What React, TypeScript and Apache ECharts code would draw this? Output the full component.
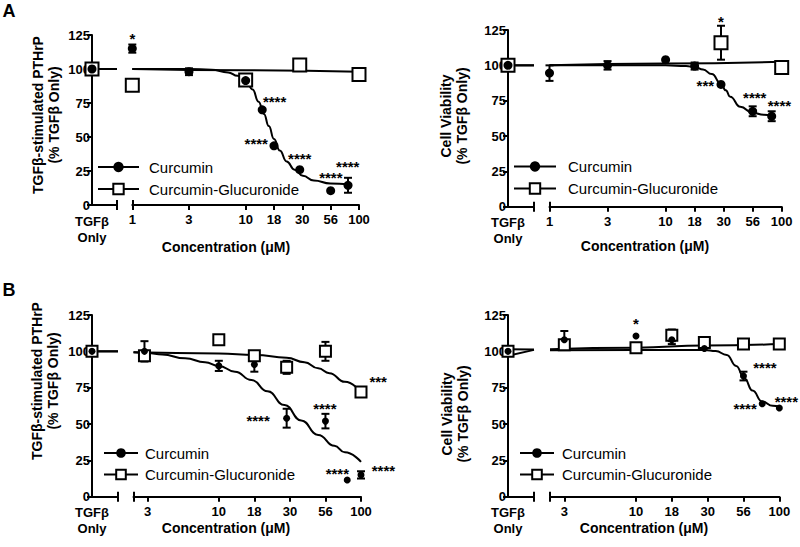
import React, { useEffect, useRef } from 'react';
import * as echarts from 'echarts';

const FONT = '"Liberation Sans", Arial, Helvetica, sans-serif';

// ---------- shared axis data ----------
const TICK_CONC_A = [1, 3.162, 10, 17.78, 31.62, 56.23, 100];
const TICK_LABELS_A = ['1', '3', '10', '18', '30', '56', '100'];
const TICK_CONC_B = [3.162, 10, 17.78, 31.62, 56.23, 100];
const TICK_LABELS_B = ['3', '10', '18', '30', '56', '100'];
const BASELINE_LABEL = 'TGFβ\nOnly';
const NAME_CUR = 'Curcumin';
const NAME_GLU = 'Curcumin-Glucuronide';
const X_TITLE = 'Concentration (μM)';
const Y_TITLE_PTHRP = 'TGFβ-stimulated PTHrP\n(% TGFβ Only)';
const Y_TITLE_VIAB = 'Cell Viability\n(% TGFβ Only)';
const Y_MIN = 0;
const Y_MAX = 125;
const Y_STEP = 25;

// ---------- Panel A, left: PTHrP ----------
const A1_BASE_CUR = 100;
const A1_BASE_GLU = 100;
const A1_CUR_CONC = [1, 3.162, 10, 14, 17.78, 30, 56.23, 80];
const A1_CUR_MEAN = [115, 98, 91.5, 70, 43.5, 26, 10.5, 14.5];
const A1_CUR_ERR = [3, 2.5, 0, 0, 0, 0, 0, 5.5];
const A1_GLU_CONC = [1, 10, 30, 100];
const A1_GLU_MEAN = [88, 92, 103, 96];
const A1_GLU_ERR = [0, 0, 0, 0];
const A1_CUR_FIT_CONC = [1, 3.162, 5, 7, 8.5, 10, 11.5, 13, 14.5, 16, 17.8, 20, 23, 27, 32, 40, 56, 80];
const A1_CUR_FIT = [100, 100, 99.5, 97.5, 95, 91.5, 85, 76, 67, 58, 48.5, 40, 32, 26, 21.5, 18, 15.8, 15.2];
const A1_GLU_FIT_CONC = [1, 10, 100];
const A1_GLU_FIT = [100, 99, 98];
const A1_BREAK_CUR = [100, 100];
const A1_BREAK_GLU = [100, 100];
const A1_STAR_CONC = [1, 18, 12.4, 30, 56.4, 79.6];
const A1_STAR_Y = [125, 78.5, 47.8, 36.8, 22.8, 31.1];
const A1_STAR_TEXT = ['*', '****', '****', '****', '****', '****'];

// ---------- Panel A, right: viability ----------
const A2_BASE_CUR = 100;
const A2_BASE_GLU = 100;
const A2_CUR_CONC = [1, 3.162, 10, 17.78, 30, 56.23, 82];
const A2_CUR_MEAN = [94.5, 100, 104, 99.5, 86.5, 67.5, 64];
const A2_CUR_ERR = [5.5, 3, 0, 2.5, 0, 3.5, 3.5];
const A2_GLU_CONC = [30, 100];
const A2_GLU_MEAN = [116, 98.5];
const A2_GLU_ERR = [12, 0];
const A2_CUR_FIT_CONC = [1, 3.162, 10, 15, 18, 21, 25, 30, 33, 36, 44, 56, 70, 82];
const A2_CUR_FIT = [100, 100, 100, 99.5, 98.7, 97, 93.8, 87, 82.3, 77.8, 70.7, 66.5, 65, 64.5];
const A2_GLU_FIT_CONC = [1, 10, 100];
const A2_GLU_FIT = [100, 101.3, 102.5];
const A2_BREAK_CUR = [100, 100];
const A2_BREAK_GLU = [100, 100];
const A2_STAR_CONC = [30, 22, 58.6, 95.6];
const A2_STAR_Y = [133.3, 88.4, 79.5, 74.3];
const A2_STAR_TEXT = ['*', '***', '****', '****'];

// ---------- Panel B, left: PTHrP ----------
const B1_BASE_CUR = 100;
const B1_BASE_GLU = 100;
const B1_CUR_CONC = [3, 10, 17.78, 30, 56.23, 80, 100];
const B1_CUR_MEAN = [100, 90, 91, 54, 52, 11.5, 15];
const B1_CUR_ERR = [7, 3.5, 5, 6.5, 5, 0, 2.5];
const B1_GLU_CONC = [3, 10, 17.78, 30, 56.23, 100];
const B1_GLU_MEAN = [97, 108, 97, 89, 100, 72];
const B1_GLU_ERR = [0, 2, 3, 4.5, 6.5, 0];
const B1_CUR_FIT_CONC = [2.512, 3.162, 4, 5.8, 8, 10, 13, 17, 22, 29, 38, 50, 65, 77, 100];
const B1_CUR_FIT = [99.3, 98.8, 97.8, 95.2, 92.5, 90, 86, 80.3, 72.5, 63, 52.5, 42.5, 35, 30.5, 24];
const B1_GLU_FIT_CONC = [2.512, 10, 18, 30, 40, 50, 60, 77, 100];
const B1_GLU_FIT = [99.4, 98.6, 97.5, 95.6, 92.5, 88.3, 85, 79, 72];
const B1_BREAK_CUR = [100, 100];
const B1_BREAK_GLU = [100, 100];
const B1_STAR_CONC = [18.9, 55.7, 132, 68.2, 143.7];
const B1_STAR_Y = [55, 63.1, 81.5, 18.4, 20.2];
const B1_STAR_TEXT = ['****', '****', '***', '****', '****'];

// ---------- Panel B, right: viability ----------
const B2_BASE_CUR = 100;
const B2_BASE_GLU = 100;
const B2_CUR_CONC = [3.162, 10, 17.78, 30, 56.23, 76, 100];
const B2_CUR_MEAN = [108, 110.5, 108, 102, 83, 64, 61];
const B2_CUR_ERR = [6, 0, 3, 0, 3, 0, 0];
const B2_GLU_CONC = [3.162, 10, 17.78, 30, 56.23, 100];
const B2_GLU_MEAN = [104.5, 102.5, 111, 106, 105, 105];
const B2_GLU_ERR = [0, 0, 4, 0, 0, 0];
const B2_CUR_FIT_CONC = [2.512, 10, 20, 30, 36, 43, 50, 57, 65, 76, 90, 100];
const B2_CUR_FIT = [100.8, 101, 101, 101, 100.2, 97.5, 90, 81.5, 73, 65.5, 62.5, 62];
const B2_GLU_FIT_CONC = [2.512, 10, 30, 100];
const B2_GLU_FIT = [101.5, 102.5, 104, 105];
const B2_BREAK_CUR = [97, 101];
const B2_BREAK_GLU = [101.5, 101.3];
const B2_STAR_CONC = [10, 79.4, 57.7, 112];
const B2_STAR_Y = [121.6, 91.1, 63.1, 67.7];
const B2_STAR_TEXT = ['*', '****', '****', '****'];

type Panel = {
  baseCur: number; baseGlu: number;
  curConc: number[]; curMean: number[]; curErr: number[];
  gluConc: number[]; gluMean: number[]; gluErr: number[];
  curFitConc: number[]; curFit: number[];
  gluFitConc: number[]; gluFit: number[];
  breakCur: number[]; breakGlu: number[];
  starConc: number[]; starY: number[]; starText: string[];
  tickConc: number[]; tickLabels: string[];
  xMin: number;
};

type Layout = {
  yx: number; top: number; bottom: number; segEnd: number; rStart: number; rEnd: number;
  circle: number; square: number;
  legendLeft: number; legendTop: number; legendW: number; legendH: number; legendGap: number; legendPad: number;
};

const PANELS: Panel[] = [
  {
    baseCur: A1_BASE_CUR, baseGlu: A1_BASE_GLU,
    curConc: A1_CUR_CONC, curMean: A1_CUR_MEAN, curErr: A1_CUR_ERR,
    gluConc: A1_GLU_CONC, gluMean: A1_GLU_MEAN, gluErr: A1_GLU_ERR,
    curFitConc: A1_CUR_FIT_CONC, curFit: A1_CUR_FIT, gluFitConc: A1_GLU_FIT_CONC, gluFit: A1_GLU_FIT,
    breakCur: A1_BREAK_CUR, breakGlu: A1_BREAK_GLU,
    starConc: A1_STAR_CONC, starY: A1_STAR_Y, starText: A1_STAR_TEXT,
    tickConc: TICK_CONC_A, tickLabels: TICK_LABELS_A, xMin: 1,
  },
  {
    baseCur: A2_BASE_CUR, baseGlu: A2_BASE_GLU,
    curConc: A2_CUR_CONC, curMean: A2_CUR_MEAN, curErr: A2_CUR_ERR,
    gluConc: A2_GLU_CONC, gluMean: A2_GLU_MEAN, gluErr: A2_GLU_ERR,
    curFitConc: A2_CUR_FIT_CONC, curFit: A2_CUR_FIT, gluFitConc: A2_GLU_FIT_CONC, gluFit: A2_GLU_FIT,
    breakCur: A2_BREAK_CUR, breakGlu: A2_BREAK_GLU,
    starConc: A2_STAR_CONC, starY: A2_STAR_Y, starText: A2_STAR_TEXT,
    tickConc: TICK_CONC_A, tickLabels: TICK_LABELS_A, xMin: 1,
  },
  {
    baseCur: B1_BASE_CUR, baseGlu: B1_BASE_GLU,
    curConc: B1_CUR_CONC, curMean: B1_CUR_MEAN, curErr: B1_CUR_ERR,
    gluConc: B1_GLU_CONC, gluMean: B1_GLU_MEAN, gluErr: B1_GLU_ERR,
    curFitConc: B1_CUR_FIT_CONC, curFit: B1_CUR_FIT, gluFitConc: B1_GLU_FIT_CONC, gluFit: B1_GLU_FIT,
    breakCur: B1_BREAK_CUR, breakGlu: B1_BREAK_GLU,
    starConc: B1_STAR_CONC, starY: B1_STAR_Y, starText: B1_STAR_TEXT,
    tickConc: TICK_CONC_B, tickLabels: TICK_LABELS_B, xMin: 2.512,
  },
  {
    baseCur: B2_BASE_CUR, baseGlu: B2_BASE_GLU,
    curConc: B2_CUR_CONC, curMean: B2_CUR_MEAN, curErr: B2_CUR_ERR,
    gluConc: B2_GLU_CONC, gluMean: B2_GLU_MEAN, gluErr: B2_GLU_ERR,
    curFitConc: B2_CUR_FIT_CONC, curFit: B2_CUR_FIT, gluFitConc: B2_GLU_FIT_CONC, gluFit: B2_GLU_FIT,
    breakCur: B2_BREAK_CUR, breakGlu: B2_BREAK_GLU,
    starConc: B2_STAR_CONC, starY: B2_STAR_Y, starText: B2_STAR_TEXT,
    tickConc: TICK_CONC_B, tickLabels: TICK_LABELS_B, xMin: 2.512,
  },
];

const LAYOUTS: Layout[] = [
  { yx: 92, top: 35, bottom: 205, segEnd: 117, rStart: 132.3, rEnd: 359, circle: 9, square: 13,
    legendLeft: 97, legendTop: 159.5, legendW: 41, legendH: 13, legendGap: 7, legendPad: 5 },
  { yx: 508, top: 30, bottom: 206.7, segEnd: 534, rStart: 549.5, rEnd: 781.7, circle: 9, square: 13,
    legendLeft: 513, legendTop: 159, legendW: 42, legendH: 13, legendGap: 7, legendPad: 7 },
  { yx: 92, top: 315, bottom: 496.7, segEnd: 118, rStart: 133.5, rEnd: 361, circle: 7, square: 11,
    legendLeft: 103, legendTop: 445.5, legendW: 34, legendH: 12, legendGap: 6.5, legendPad: 2 },
  { yx: 508, top: 315, bottom: 496.7, segEnd: 534, rStart: 550, rEnd: 779.3, circle: 7, square: 11,
    legendLeft: 519, legendTop: 445.5, legendW: 34, legendH: 12, legendGap: 6.5, legendPad: 3 },
];

const lg = (c: number) => Math.log10(c);

function buildOption() {
  const grids: any[] = [];
  const xAxes: any[] = [];
  const yAxes: any[] = [];
  const series: any[] = [];
  const legends: any[] = [];

  const black = '#000';
  const lineW = 2;
  const tickLabelStyle = { color: black, fontFamily: FONT, fontWeight: 'bold', fontSize: 13 };

  const errorBarSeries = (xi: number, yi: number, data: number[][]) => ({
    type: 'custom', xAxisIndex: xi, yAxisIndex: yi, z: 2, silent: true,
    encode: { x: 0, y: 1 },
    data,
    renderItem: (params: any, api: any) => {
      const x = api.value(0), y = api.value(1), e = api.value(2);
      const hi = api.coord([x, y + e]);
      const lo = api.coord([x, y - e]);
      const cap = 4;
      const st = { stroke: black, lineWidth: lineW };
      return {
        type: 'group',
        children: [
          { type: 'line', shape: { x1: hi[0], y1: hi[1], x2: lo[0], y2: lo[1] }, style: st },
          { type: 'line', shape: { x1: hi[0] - cap, y1: hi[1], x2: hi[0] + cap, y2: hi[1] }, style: st },
          { type: 'line', shape: { x1: lo[0] - cap, y1: lo[1], x2: lo[0] + cap, y2: lo[1] }, style: st },
        ],
      };
    },
  });

  PANELS.forEach((p, pi) => {
    const L = LAYOUTS[pi];
    const h = L.bottom - L.top;
    const gL = grids.length;
    grids.push({ left: L.yx, top: L.top, width: L.segEnd - L.yx, height: h });
    const gR = grids.length;
    grids.push({ left: L.rStart, top: L.top, width: L.rEnd - L.rStart, height: h });

    const xMinLog = lg(p.xMin);
    const tickVals = p.tickConc.map(lg);
    const labelFor = (v: number) => {
      const i = tickVals.findIndex((t) => Math.abs(t - v) < 1e-6);
      return i >= 0 ? p.tickLabels[i] : '';
    };
    const axisLine = { show: true, onZero: false, lineStyle: { color: black, width: lineW } };

    // left (TGFβ only) segment axes
    const xL = xAxes.length;
    xAxes.push({
      type: 'value', gridIndex: gL, position: 'bottom', min: 0, max: 1,
      axisLine, splitLine: { show: false },
      axisTick: { show: true, customValues: [1], length: 5, lineStyle: { color: black, width: lineW } },
      axisLabel: { show: true, customValues: [0], formatter: () => BASELINE_LABEL, margin: 8, lineHeight: 16, ...tickLabelStyle },
    });
    xAxes.push({
      type: 'value', gridIndex: gL, position: 'bottom', min: 0, max: 1,
      axisLine: { show: false }, splitLine: { show: false }, axisLabel: { show: false },
      axisTick: { show: true, inside: true, customValues: [1], length: 5, lineStyle: { color: black, width: lineW } },
    });
    // right (concentration) segment axes
    const xR = xAxes.length;
    const rightTicks = xMinLog < tickVals[0] - 1e-6 ? [xMinLog, ...tickVals] : tickVals;
    xAxes.push({
      type: 'value', gridIndex: gR, position: 'bottom', min: xMinLog, max: 2,
      axisLine, splitLine: { show: false },
      axisTick: { show: true, customValues: rightTicks, length: 5, lineStyle: { color: black, width: lineW } },
      axisLabel: { show: true, customValues: tickVals, formatter: (v: number) => labelFor(v), margin: 8, ...tickLabelStyle },
    });
    xAxes.push({
      type: 'value', gridIndex: gR, position: 'bottom', min: xMinLog, max: 2,
      axisLine: { show: false }, splitLine: { show: false }, axisLabel: { show: false },
      axisTick: { show: true, inside: true, customValues: [xMinLog], length: 5, lineStyle: { color: black, width: lineW } },
    });

    const yL = yAxes.length;
    yAxes.push({
      type: 'value', gridIndex: gL, position: 'left', min: Y_MIN, max: Y_MAX, interval: Y_STEP,
      axisLine, splitLine: { show: false },
      axisTick: { show: true, length: 5, lineStyle: { color: black, width: lineW } },
      axisLabel: { show: true, margin: 2, ...tickLabelStyle },
    });
    const yR = yAxes.length;
    yAxes.push({ type: 'value', gridIndex: gR, min: Y_MIN, max: Y_MAX, interval: Y_STEP, show: false });

    const curStyle = { color: black, opacity: 1 };
    const gluStyle = { color: '#fff', borderColor: black, borderWidth: lineW, opacity: 1 };

    // fitted curves
    series.push({
      name: NAME_CUR, type: 'line', xAxisIndex: xR, yAxisIndex: yR, z: 2,
      data: p.curFitConc.map((c, i) => [lg(c), p.curFit[i]]),
      smooth: true, smoothMonotone: 'x', showSymbol: false, symbol: 'circle', symbolSize: L.circle,
      lineStyle: { color: black, width: lineW }, itemStyle: curStyle, silent: true, clip: false,
    });
    series.push({
      name: NAME_GLU, type: 'line', xAxisIndex: xR, yAxisIndex: yR, z: 2,
      data: p.gluFitConc.map((c, i) => [lg(c), p.gluFit[i]]),
      smooth: true, smoothMonotone: 'x', showSymbol: false, symbol: 'rect', symbolSize: L.square,
      lineStyle: { color: black, width: lineW }, itemStyle: gluStyle, silent: true, clip: false,
    });
    // curves across the TGFβ-only segment
    [p.breakCur, p.breakGlu].forEach((b, k) => {
      series.push({
        name: `break-${pi}-${k}`, type: 'line', xAxisIndex: xL, yAxisIndex: yL, z: 2,
        data: [[0, b[0]], [1, b[1]]], showSymbol: false, symbol: 'none',
        lineStyle: { color: black, width: lineW }, silent: true, clip: false,
      });
    });

    // error bars
    series.push(errorBarSeries(xR, yR,
      p.gluConc.map((c, i) => [lg(c), p.gluMean[i], p.gluErr[i]]).filter((d) => d[2] > 0)));
    series.push(errorBarSeries(xR, yR,
      p.curConc.map((c, i) => [lg(c), p.curMean[i], p.curErr[i]]).filter((d) => d[2] > 0)));

    // points
    series.push({
      name: `glu-pts-${pi}`, type: 'scatter', xAxisIndex: xR, yAxisIndex: yR, z: 3, silent: true, clip: false,
      symbol: 'rect', symbolSize: L.square, itemStyle: gluStyle,
      data: p.gluConc.map((c, i) => [lg(c), p.gluMean[i]]),
    });
    series.push({
      name: `cur-pts-${pi}`, type: 'scatter', xAxisIndex: xR, yAxisIndex: yR, z: 4, silent: true, clip: false,
      symbol: 'circle', symbolSize: L.circle, itemStyle: curStyle,
      data: p.curConc.map((c, i) => [lg(c), p.curMean[i]]),
    });
    series.push({
      name: `glu-base-${pi}`, type: 'scatter', xAxisIndex: xL, yAxisIndex: yL, z: 3, silent: true, clip: false,
      symbol: 'rect', symbolSize: L.square, itemStyle: gluStyle, data: [[0, p.baseGlu]],
    });
    series.push({
      name: `cur-base-${pi}`, type: 'scatter', xAxisIndex: xL, yAxisIndex: yL, z: 4, silent: true, clip: false,
      symbol: 'circle', symbolSize: L.circle, itemStyle: curStyle, data: [[0, p.baseCur]],
    });

    // significance stars
    series.push({
      name: `stars-${pi}`, type: 'scatter', xAxisIndex: xR, yAxisIndex: yR, z: 6, silent: true, clip: false,
      symbolSize: 1, itemStyle: { color: 'rgba(0,0,0,0)', opacity: 1 },
      data: p.starConc.map((c, i) => ({ value: [lg(c), p.starY[i]], name: p.starText[i] })),
      label: {
        show: true, position: 'inside', formatter: '{b}', offset: [0, 3.6], opacity: 1,
        color: black, fontFamily: FONT, fontWeight: 'bold', fontSize: 15,
      },
    });

    legends.push({
      show: true, orient: 'vertical', left: L.legendLeft, top: L.legendTop, padding: 0,
      itemWidth: L.legendW, itemHeight: L.legendH, itemGap: L.legendGap, selectedMode: false,
      data: [NAME_CUR, NAME_GLU],
      textStyle: { color: black, fontFamily: FONT, fontSize: 15, padding: [0, 0, 0, L.legendPad] },
    });
  });

  const txt = (text: string, x: number, y: number, size: number, rot = 0, weight = 'bold', lh = 16) => ({
    type: 'text', x, y, rotation: rot, silent: true,
    style: {
      text, fill: '#000', font: `${weight} ${size}px ${FONT}`, lineHeight: lh,
      align: 'center', verticalAlign: 'middle', textAlign: 'center', textVerticalAlign: 'middle',
    },
  });

  const graphic = [
    txt('A', 9, 11, 18),
    txt('B', 9, 290, 18),
    txt(Y_TITLE_PTHRP, 45.5, 115, 14, Math.PI / 2),
    txt(Y_TITLE_VIAB, 453.5, 116, 14, Math.PI / 2),
    txt(Y_TITLE_PTHRP, 45, 381, 14, Math.PI / 2),
    txt(Y_TITLE_VIAB, 455, 414, 14, Math.PI / 2),
    txt(X_TITLE, 226, 246.5, 14),
    txt(X_TITLE, 645, 246, 14),
    txt(X_TITLE, 226, 528, 14),
    txt(X_TITLE, 644, 528, 14),
  ];

  return {
    animation: false,
    backgroundColor: '#fff',
    grid: grids,
    xAxis: xAxes,
    yAxis: yAxes,
    series,
    legend: legends,
    graphic,
  };
}

export default function App() {
  const ref = useRef<HTMLDivElement>(null);
  useEffect(() => {
    if (!ref.current) return;
    const chart = echarts.init(ref.current, null, { renderer: 'svg', width: 800, height: 547 });
    chart.setOption(buildOption() as any);
    return () => chart.dispose();
  }, []);
  return (
    <div
      ref={ref}
      style={{ position: 'fixed', left: 0, top: 0, width: 800, height: 547, background: '#fff' }}
    />
  );
}
